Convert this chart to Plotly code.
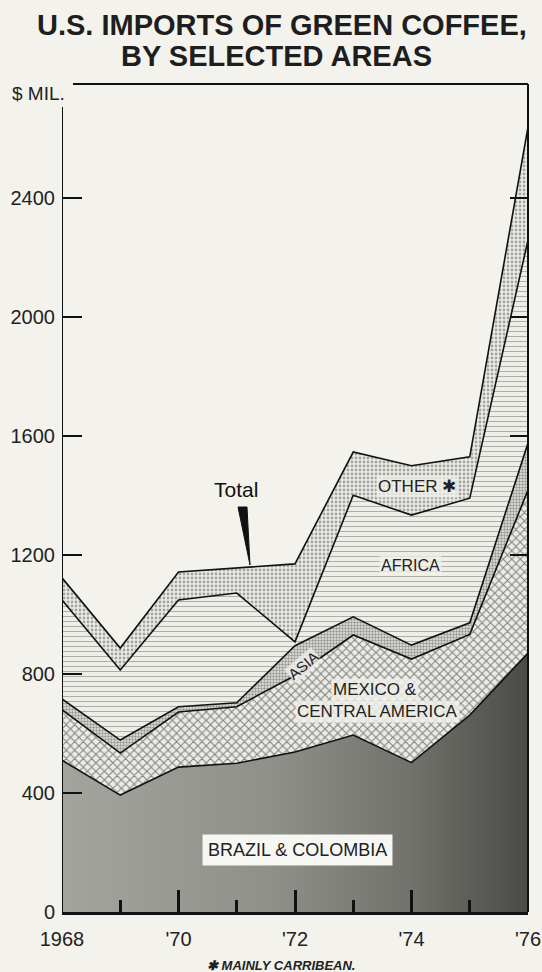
import plotly.graph_objects as go

# ---- data (US$ million) ----
years = [1968, 1969, 1970, 1971, 1972, 1973, 1974, 1975, 1976]
brazil_colombia = [510, 393, 487, 500, 538, 595, 502, 662, 870]
mexico_central_america = [170, 141, 185, 190, 257, 336, 348, 271, 548]
asia = [36, 44, 18, 13, 100, 61, 47, 39, 158]
africa = [333, 235, 359, 369, 13, 409, 437, 419, 682]
other = [74, 74, 94, 84, 262, 145, 166, 139, 380]

x_tickvals = [1968, 1970, 1972, 1974, 1976]
x_ticktext = ["1968", "'70", "'72", "'74", "'76"]
y_tickvals = [0, 400, 800, 1200, 1600, 2000, 2400]
y_ticktext = ["0", "400", "800", "1200", "1600", "2000", "2400"]

# ---- layout geometry (pixels) ----
W, H = 542, 972
L, R, T, B = 62, 14, 84, 60
PW, PH = W - L - R, H - T - B
YMAX = 2783
FONT = "Liberation Sans, Arial, Helvetica, sans-serif"
BG = "#f3f2ec"


def px_x(px):
    return (px - L) / PW


def px_y(py):
    return (H - B - py) / PH


def dx(px):
    return 1968 + (px - L) / PW * 8


def dy(py):
    return (H - B - py) / PH * YMAX


fig = go.Figure()

fig.add_trace(go.Scatter(
    x=years, y=brazil_colombia, stackgroup="one", mode="lines",
    name="Brazil & Colombia", line=dict(color="#111", width=1.6),
    fillgradient=dict(type="horizontal",
                      colorscale=[[0, "#a4a49e"], [0.45, "#90908a"], [0.75, "#72726c"], [1, "#4a4a47"]]),
))
fig.add_trace(go.Scatter(
    x=years, y=mexico_central_america, stackgroup="one", mode="lines",
    name="Mexico & Central America", line=dict(color="#111", width=1.6),
    fillpattern=dict(shape="x", fgcolor="#1c1c1c", bgcolor="#ececE6", size=6, solidity=0.34),
))
fig.add_trace(go.Scatter(
    x=years, y=asia, stackgroup="one", mode="lines",
    name="Asia", line=dict(color="#111", width=1.6),
    fillpattern=dict(shape=".", fgcolor="#444", bgcolor="#e6e6e0", size=3, solidity=0.5),
))
fig.add_trace(go.Scatter(
    x=years, y=africa, stackgroup="one", mode="lines",
    name="Africa", line=dict(color="#111", width=1.6),
    fillpattern=dict(shape="-", fgcolor="#6e6e6a", bgcolor="#eeeee8", size=5, solidity=0.2),
))
fig.add_trace(go.Scatter(
    x=years, y=other, stackgroup="one", mode="lines",
    name="Other", line=dict(color="#111", width=1.6),
    fillpattern=dict(shape=".", fgcolor="#5a5a5a", bgcolor="#ececE6", size=4, solidity=0.38),
))

# right-side inner ticks
fig.add_trace(go.Scatter(x=[None], y=[None], yaxis="y2", showlegend=False))

shapes = [
    dict(type="line", xref="x", yref="y", x0=1968, x1=1968, y0=0, y1=dy(107),
         line=dict(color="#111", width=2)),
    dict(type="line", xref="paper", yref="paper", x0=px_x(73), x1=1, y0=1, y1=1,
         line=dict(color="#111", width=2)),
    dict(type="line", xref="paper", yref="paper", x0=1, x1=1, y0=0, y1=1,
         line=dict(color="#111", width=2)),
    dict(type="path", xref="x", yref="y",
         path=f"M {dx(238)},{dy(507)} L {dx(247)},{dy(507)} L {dx(250)},{dy(565)} Z",
         fillcolor="#111", line=dict(color="#111", width=1)),
]

annotations = [
    dict(text="<b>U.S. IMPORTS OF GREEN COFFEE,</b>", xref="paper", yref="paper",
         x=px_x(282), y=px_y(25), xanchor="center", yanchor="middle", showarrow=False,
         font=dict(family=FONT, size=29, color="#1e1e1e")),
    dict(text="<b>BY SELECTED AREAS</b>", xref="paper", yref="paper",
         x=px_x(276), y=px_y(56), xanchor="center", yanchor="middle", showarrow=False,
         font=dict(family=FONT, size=29, color="#1e1e1e")),
    dict(text="$ MIL.", xref="paper", yref="paper", x=px_x(10), y=px_y(93),
         xanchor="left", yanchor="middle", showarrow=False,
         font=dict(family=FONT, size=19, color="#222")),
    dict(text="Total", xref="paper", yref="paper", x=px_x(236), y=px_y(490),
         xanchor="center", yanchor="middle", showarrow=False,
         font=dict(family=FONT, size=21, color="#111")),
    dict(text="OTHER ✱", xref="paper", yref="paper", x=px_x(417), y=px_y(486),
         xanchor="center", yanchor="middle", showarrow=False,
         bgcolor="rgba(240,240,234,0.75)", borderpad=1,
         font=dict(family=FONT, size=17, color="#222")),
    dict(text="AFRICA", xref="paper", yref="paper", x=px_x(410), y=px_y(565),
         xanchor="center", yanchor="middle", showarrow=False,
         bgcolor="rgba(240,240,234,0.75)", borderpad=1,
         font=dict(family=FONT, size=16, color="#222")),
    dict(text="ASIA", xref="paper", yref="paper", x=px_x(303), y=px_y(665),
         xanchor="center", yanchor="middle", showarrow=False, textangle=-40,
         bgcolor="rgba(240,240,234,0.8)", borderpad=0,
         font=dict(family=FONT, size=15, color="#222")),
    dict(text="MEXICO &", xref="paper", yref="paper", x=px_x(375), y=px_y(690),
         xanchor="center", yanchor="middle", showarrow=False,
         bgcolor="rgba(240,240,234,0.85)", borderpad=1,
         font=dict(family=FONT, size=17, color="#222")),
    dict(text="CENTRAL AMERICA", xref="paper", yref="paper", x=px_x(377), y=px_y(711),
         xanchor="center", yanchor="middle", showarrow=False,
         bgcolor="rgba(240,240,234,0.85)", borderpad=1,
         font=dict(family=FONT, size=17, color="#222")),
    dict(text="BRAZIL & COLOMBIA", xref="paper", yref="paper", x=px_x(297), y=px_y(850),
         xanchor="center", yanchor="middle", showarrow=False,
         bgcolor="#f6f6f2", borderpad=5,
         font=dict(family=FONT, size=18, color="#222")),
    dict(text="<b><i>✱ MAINLY CARRIBEAN.</i></b>", xref="paper", yref="paper",
         x=px_x(281), y=px_y(965), xanchor="center", yanchor="middle", showarrow=False,
         font=dict(family=FONT, size=13, color="#222")),
]

fig.update_layout(
    width=W, height=H, autosize=False,
    margin=dict(l=L, r=R, t=T, b=B, pad=0, autoexpand=False),
    paper_bgcolor=BG, plot_bgcolor=BG,
    showlegend=False,
    shapes=shapes, annotations=annotations,
    xaxis=dict(range=[1968, 1976], showgrid=False, zeroline=False, automargin=False,
               showline=True, linecolor="#111", linewidth=2.5,
               tickmode="array", tickvals=x_tickvals, ticktext=x_ticktext,
               ticks="inside", ticklen=22, tickwidth=3, tickcolor="#111",
               minor=dict(ticks="inside", ticklen=12, tickwidth=3, tickcolor="#111",
                          tickmode="array", tickvals=[1969, 1971, 1973, 1975]),
               ticklabelstandoff=7,
               tickfont=dict(family=FONT, size=20, color="#222")),
    yaxis=dict(range=[0, YMAX], showgrid=False, zeroline=False, showline=False,
               automargin=False,
               tickmode="array", tickvals=y_tickvals, ticktext=y_ticktext,
               ticks="inside", ticklen=20, tickwidth=2, tickcolor="#111",
               ticklabelstandoff=6,
               tickfont=dict(family=FONT, size=20, color="#222")),
    yaxis2=dict(range=[0, YMAX], overlaying="y", side="right", showgrid=False,
                zeroline=False, showline=False, showticklabels=False, automargin=False,
                tickmode="array", tickvals=[1200, 1600, 2000, 2400],
                ticks="inside", ticklen=18, tickwidth=2, tickcolor="#111"),
)

fig.write_html(
    "out.html",
    config={"displayModeBar": False, "responsive": False},
    post_script="document.body.style.margin='0';document.body.style.overflow='hidden';"
                "document.body.style.background='" + BG + "';",
)
